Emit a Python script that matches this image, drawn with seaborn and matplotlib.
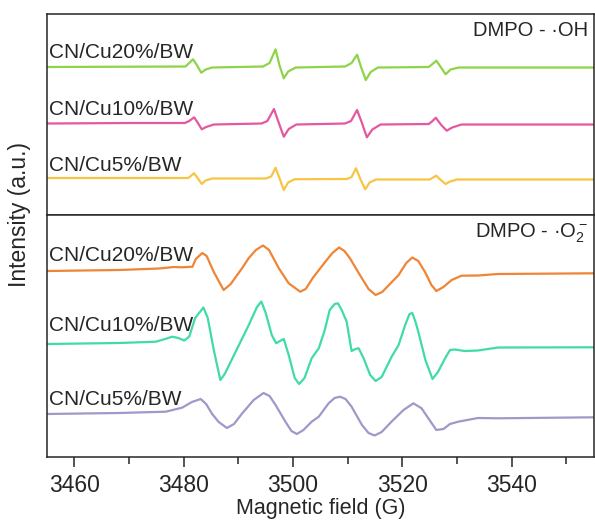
import numpy as np
import pandas as pd
import seaborn as sns
import matplotlib.pyplot as plt
from matplotlib.ticker import MultipleLocator

# ---- DMPO - OH spectra (top panel) ----
oh20_x = [3455, 3470, 3480.3, 3481.0, 3481.7, 3482.4, 3483.2, 3484.0, 3485.2, 3494.5, 3495.7, 3496.8, 3497.5,
          3498.3, 3499.1, 3500.5, 3509.5, 3510.7, 3511.7, 3512.5, 3513.3, 3514.2, 3515.5, 3524.8, 3525.5, 3526.2,
          3527.0, 3527.9, 3528.8, 3530.3, 3555]
oh20_y = [148, 148.3, 148.5, 152, 155.7, 150, 142.3, 145.5, 147.5, 148.5, 152, 165.7, 150, 136.7, 143.5, 147.5,
          148.5, 152, 160.3, 147, 135, 143, 147.5, 148, 151, 154.3, 148, 140.7, 145.5, 147.5, 147.5]

oh10_x = [3455, 3470, 3480.2, 3481.0, 3481.9, 3482.6, 3483.3, 3484.1, 3485.5, 3494.2, 3495.3, 3496.5, 3497.4,
          3498.3, 3499.2, 3500.6, 3509.5, 3510.6, 3511.7, 3512.6, 3513.5, 3514.5, 3516.0, 3524.8, 3525.4, 3526.1,
          3527.1, 3528.1, 3529.1, 3530.8, 3555]
oh10_y = [91.5, 92, 92, 94, 97.7, 92, 85.7, 88, 90.5, 91.5, 94, 106, 92, 78.3, 86, 90.5, 91.5, 94, 105, 92,
          77.7, 85.5, 90.5, 91, 93.5, 97.3, 90, 84.3, 87.5, 90.5, 90.5]

oh5_x = [3455, 3470, 3480.8, 3481.3, 3481.9, 3482.6, 3483.3, 3484.0, 3485.2, 3495.0, 3496.0, 3496.8, 3497.5,
         3498.3, 3499.1, 3500.3, 3509.8, 3510.7, 3511.5, 3512.3, 3513.2, 3514.0, 3515.2, 3525.0, 3525.6, 3526.2,
         3527.0, 3527.9, 3528.7, 3530.0, 3555]
oh5_y = [37, 37, 37, 39, 41.7, 36.5, 31, 34.5, 36.5, 36.5, 38.5, 47.3, 37, 25, 32.5, 35.8, 36, 38, 46.7, 36,
         25.7, 32.5, 35.5, 35.5, 37.5, 39.3, 35, 31, 33.5, 35.5, 35.5]

# ---- DMPO - O2- spectra (bottom panel) ----
o2_20_x = [3455, 3468.2, 3475.5, 3478.2, 3479.7, 3481.6, 3482.2, 3483.4, 3484.2, 3485.5, 3487.3, 3488.6, 3490.7,
           3491.9, 3493.2, 3494.5, 3495.6, 3497.4, 3499.2, 3501.3, 3502.3, 3503.6, 3505.9, 3507.2, 3508.4, 3509.4,
           3510.4, 3512.0, 3513.8, 3515.1, 3516.3, 3519.3, 3520.7, 3521.8, 3522.9, 3524.1, 3525.3, 3526.2, 3527.5,
           3529.0, 3530.8, 3533.8, 3537.5, 3555]
o2_20_y = [186, 187, 188.5, 190, 189.7, 190.3, 198, 204, 201, 185, 167, 173, 189, 199, 207, 211.5, 207, 188.7,
           173.7, 165.3, 168, 179, 195.3, 204, 209.5, 206, 198.7, 184, 168, 162, 165, 182, 194, 199.5, 196, 185.3,
           172, 166, 170, 177, 181.3, 181.5, 183, 183.7]

o2_10_x = [3455, 3468.2, 3474.9, 3476.6, 3477.9, 3479.0, 3480.1, 3481.0, 3482.1, 3483.6, 3484.4, 3485.5, 3486.7,
           3487.5, 3490.1, 3491.9, 3493.4, 3494.2, 3495.0, 3496.1, 3496.9, 3497.6, 3498.3, 3499.2, 3500.3, 3501.1,
           3502.1, 3503.4, 3504.7, 3505.8, 3506.7, 3507.6, 3508.2, 3508.9, 3509.8, 3510.7, 3511.4, 3512.0, 3512.9,
           3514.1, 3515.1, 3516.2, 3518.0, 3519.3, 3520.5, 3521.3, 3521.8, 3522.4, 3522.9, 3524.2, 3525.5, 3526.5,
           3527.8, 3528.7, 3529.5, 3531.4, 3533.8, 3537.5, 3555]
o2_10_y = [113, 114, 115.3, 118, 120.3, 119, 116.5, 120.3, 139, 149.5, 139, 107, 77, 83, 112, 132, 150, 155.5,
           144, 122, 113.7, 116, 118, 102, 79, 73, 79, 98.7, 108.7, 127, 147, 153, 153.7, 147, 135.3, 106, 108,
           108.7, 98.7, 82, 76, 80, 100, 112, 132, 143, 144, 135, 125.3, 97, 78, 85, 98.7, 107, 107.5, 106, 106.5,
           109.5, 109.7]

o2_5_x = [3455, 3468.2, 3476.7, 3479.7, 3481.5, 3483.1, 3484.1, 3485.2, 3486.4, 3487.9, 3489.2, 3490.7, 3492.8,
          3494.6, 3495.7, 3496.8, 3498.6, 3499.7, 3500.7, 3501.9, 3503.4, 3504.7, 3506.5, 3507.6, 3508.6, 3509.6,
          3510.7, 3512.6, 3513.8, 3514.9, 3516.2, 3518.0, 3520.2, 3522.0, 3523.5, 3524.7, 3526.2, 3527.5, 3528.7,
          3530.2, 3533.8, 3537.5, 3555]
o2_5_y = [43, 44, 45.3, 49.3, 55, 58, 53, 43, 35, 29, 33, 43.7, 57, 64, 61, 52, 35.3, 26, 23, 27, 35.3, 40.3,
          53.7, 59, 60.3, 58, 50.3, 32, 24, 21.5, 25, 35.3, 47, 53.7, 48.7, 39, 27, 28, 33, 35.3, 39, 38.7, 39.7]

labels = ['CN/Cu20%/BW', 'CN/Cu10%/BW', 'CN/Cu5%/BW']
oh_colors = ['#8fd348', '#e4589f', '#f7c544']
o2_colors = ['#ef8536', '#40dba6', '#9d99ca']

sns.set_style('ticks')
plt.rcParams['font.family'] = ['Liberation Sans', 'DejaVu Sans']
plt.rcParams['axes.linewidth'] = 1.1

fig = plt.figure(figsize=(5.95, 5.23), dpi=100)
ax1 = fig.add_axes([0.079, 0.5889, 0.919, 0.3843])
ax2 = fig.add_axes([0.079, 0.1262, 0.919, 0.4627])

oh_sets = [(oh20_x, oh20_y), (oh10_x, oh10_y), (oh5_x, oh5_y)]
o2_sets = [(o2_20_x, o2_20_y), (o2_10_x, o2_10_y), (o2_5_x, o2_5_y)]

for (xs, ys), c in zip(oh_sets, oh_colors):
    sns.lineplot(x=xs, y=ys, ax=ax1, color=c, lw=1.6, solid_joinstyle='round')
for (xs, ys), c in zip(o2_sets, o2_colors):
    sns.lineplot(x=xs, y=ys, ax=ax2, color=c, lw=1.6, solid_joinstyle='round')

# curve labels
for lab, ypos in zip(labels, [153, 96, 40]):
    ax1.text(3455.4, ypos, lab, fontsize=15, va='bottom', ha='left')
for lab, ypos in zip(labels, [192, 122, 48]):
    ax2.text(3455.4, ypos, lab, fontsize=15, va='bottom', ha='left')

ax1.text(0.99, 0.92, 'DMPO - \u00b7OH', transform=ax1.transAxes, fontsize=14.5, ha='right', va='center')
ax2.text(0.99, 0.925, 'DMPO - \u00b7$\\mathregular{O_2^-}$', transform=ax2.transAxes, fontsize=14.5,
         ha='right', va='center')

for ax, top in [(ax1, 201), (ax2, 242)]:
    ax.set_xlim(3455, 3555)
    ax.set_ylim(0, top)
    ax.set_yticks([])
    for s in ax.spines.values():
        s.set_visible(True)
        s.set_linewidth(1.1)

ax1.set_xticks([])
ax2.xaxis.set_major_locator(MultipleLocator(20))
ax2.xaxis.set_minor_locator(MultipleLocator(10))
ax2.tick_params(axis='x', which='major', direction='out', length=7, width=1.1, labelsize=16.5, pad=5)
ax2.tick_params(axis='x', which='minor', direction='out', length=5, width=1.1)
ax2.set_xlabel('Magnetic field (G)', fontsize=15.5, labelpad=1)

fig.text(0.033, 0.59, 'Intensity (a.u.)', rotation=90, fontsize=16.5, ha='center', va='center')

fig.savefig('out.png', dpi=100)
